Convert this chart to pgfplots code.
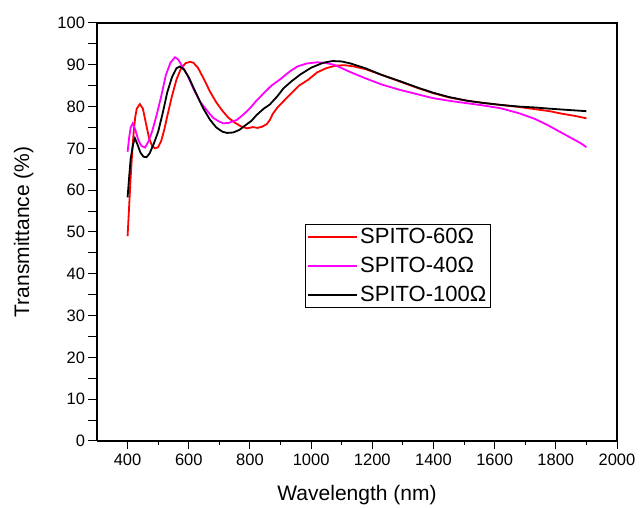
\documentclass[border=0pt]{standalone}
\usepackage{pgfplots}
\pgfplotsset{compat=1.18}
\usepackage{fontspec}
\setmainfont{Liberation Sans}
\definecolor{mag}{RGB}{255,0,255}
\definecolor{rd}{RGB}{255,0,0}
\begin{document}
\begin{tikzpicture}
\useasboundingbox (-97pt,-67pt) rectangle (543pt,441pt);
\begin{axis}[
    scale only axis,
    width=520pt, height=418pt,
    xmin=300, xmax=2000, ymin=0, ymax=100,
    xtick={400,600,...,2000},
    ytick={0,5,...,100},
    yticklabels={0,,10,,20,,30,,40,,50,,60,,70,,80,,90,,100},
    minor x tick num=1,
    axis x line*=bottom, axis y line*=left,
    tick align=outside,
    major tick length=8.5pt, minor tick length=4pt,
    every tick/.style={black, line width=1pt},
    axis line style={line width=1.1pt, -},
    /pgf/number format/assume math mode=true,
    /pgf/number format/set thousands separator={},
    tick label style={font=\fontsize{16.5}{18}\selectfont},
    xticklabel style={yshift=-1pt},
    xlabel={Wavelength (nm)}, ylabel={Transmittance (\%)},
    label style={font=\fontsize{21}{24}\selectfont},
    xlabel style={yshift=-13pt},
    ylabel style={yshift=17pt},
    legend style={at={(axis cs:980,51.9)}, anchor=north west,
        font=\fontsize{22}{24}\selectfont, draw=black, line width=0.8pt,
        inner sep=2pt, row sep=8pt, cells={anchor=west}},
    legend image code/.code={\draw[#1, line width=1.8pt] (0pt,0pt) -- (49pt,0pt);},
    every axis plot/.append style={line width=1.8pt},
]
\addplot[rd] coordinates {
(400,49) (405,56) (410,63) (415,69) (420,74) (425,77.5) (430,79.5) (440,80.6)
(450,79.5) (460,76) (470,72.5) (480,70.6) (490,70) (500,70.3) (510,71.8)
(520,74.5) (530,77.8) (545,82.5) (560,86.5) (575,89.2) (590,90.4) (605,90.7)
(615,90.5) (630,89.3) (650,86.5) (670,83.5) (690,81) (710,79) (730,77.3)
(750,76.2) (770,75.3) (790,74.8) (810,75.1) (825,74.9) (840,75.2) (855,75.8)
(865,76.8) (875,78.3) (890,79.8) (910,81.3) (930,82.8) (960,85) (990,86.4)
(1020,88.2) (1050,89.2) (1080,89.8) (1110,89.9) (1140,89.6) (1180,88.9)
(1230,87.6) (1290,86) (1350,84.4) (1400,83.2) (1450,82.2) (1510,81.4)
(1560,80.9) (1620,80.4) (1680,79.9) (1730,79.4) (1780,78.9) (1820,78.3)
(1860,77.8) (1900,77.2)
};
\addplot[mag] coordinates {
(400,69.2) (405,72.5) (410,75) (417,76) (425,74.5) (435,72) (445,70.6)
(457,70.2) (467,71.5) (480,74) (495,78) (510,82.5) (525,87.5) (540,90.5)
(555,91.8) (565,91.3) (580,89.5) (595,87.6) (615,84.3) (637,81.2) (660,79)
(680,77.3) (700,76.4) (713,76) (730,76.1) (757,76.8) (780,78.2) (800,79.6)
(820,81.3) (845,83.2) (870,85) (900,86.6) (930,88.4) (955,89.6) (985,90.3)
(1020,90.6) (1050,90.4) (1075,90) (1100,89.2) (1130,88.2) (1180,86.7)
(1230,85.3) (1290,84) (1350,82.9) (1400,82) (1460,81.3) (1510,80.8)
(1560,80.3) (1620,79.6) (1680,78.4) (1730,77.1) (1770,75.7) (1810,74.1)
(1850,72.5) (1880,71.3) (1900,70.3)
};
\addplot[black] coordinates {
(400,58.3) (405,63) (410,67.5) (418,71) (424,72.4) (432,71) (442,69) (452,68)
(462,67.9) (472,68.8) (485,71) (500,74) (515,78.5) (530,83.5) (545,87)
(560,89.2) (571,89.6) (585,88.8) (600,87) (620,83.8) (647,79.6) (670,76.8)
(690,75) (710,74) (725,73.7) (745,73.8) (765,74.4) (790,75.8) (805,76.6)
(822,78) (845,79.5) (865,80.5) (890,82.5) (910,84.4) (935,86) (965,87.7)
(1000,89.3) (1040,90.5) (1070,90.9) (1100,90.8) (1130,90.3) (1180,89.1)
(1230,87.6) (1290,86.1) (1350,84.5) (1400,83.3) (1450,82.3) (1510,81.4)
(1560,80.9) (1620,80.4) (1680,80) (1730,79.8) (1780,79.5) (1820,79.3)
(1860,79.1) (1900,78.9)
};
\legend{SPITO-60Ω, SPITO-40Ω, SPITO-100Ω}
\end{axis}
\draw[line width=1.1pt] (0pt,418pt) -- (520pt,418pt) -- (520pt,0pt);
\end{tikzpicture}
\end{document}
